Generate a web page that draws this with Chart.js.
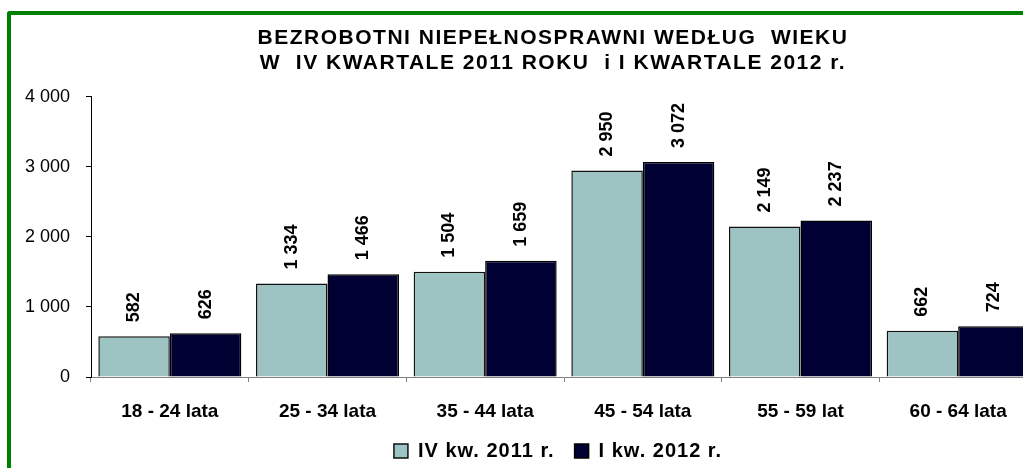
<!DOCTYPE html>
<html lang="pl">
<head>
<meta charset="utf-8">
<script src="https://cdn.jsdelivr.net/npm/chart.js@4/dist/chart.umd.min.js"></script>
<style>
  html, body { margin: 0; padding: 0; background: #fff; overflow: hidden; width: 1023px; height: 468px; }
  #wrap { position: relative; width: 1023px; height: 468px; overflow: hidden; }
  #chart { position: absolute; left: 0; top: 0; }
  #frame {
    position: absolute; left: 7px; top: 11px; width: 1100px; height: 500px;
    border-left: 4px solid #008000; border-top: 4px solid #008000;
    border-top-left-radius: 3px; pointer-events: none;
  }
</style>
</head>
<body>
<div id="wrap">
  <canvas id="chart" width="1106" height="468"></canvas>
  <div id="frame"></div>
</div>
<script>
// ── Data ──
const categories = ['18 - 24 lata', '25 - 34 lata', '35 - 44 lata', '45 - 54 lata', '55 - 59 lat', '60 - 64 lata'];
const q4_2011 = [582, 1334, 1504, 2950, 2149, 662];
const q1_2012 = [626, 1466, 1659, 3072, 2237, 724];
const seriesNames = ['IV kw. 2011 r.', 'I kw. 2012 r.'];
const titleLines = ['BEZROBOTNI NIEPEŁNOSPRAWNI WEDŁUG  WIEKU', 'W  IV KWARTALE 2011 ROKU  i I KWARTALE 2012 r.'];
const yTicks = [0, 1000, 2000, 3000, 4000];

const FONT = '"Liberation Sans", Arial, sans-serif';

// "2950" -> "2 950"
function fmt(v) {
  return String(v).replace(/\B(?=(\d{3})+(?!\d))/g, ' ');
}

// ── Wider letter spacing for title / legend (the original is stretched) ──
function spaced(box, methods, spacing, dx = 0, dy = 0) {
  if (!box || box._spaced) return;
  box._spaced = true;
  methods.forEach(m => {
    const orig = box[m].bind(box);
    box[m] = (...args) => {
      const ctx = box.ctx;
      ctx.save();
      ctx.letterSpacing = spacing;
      if (m === 'draw') ctx.translate(dx, dy);
      const r = orig(...args);
      ctx.restore();
      return r;
    };
  });
}

const textSpacing = {
  id: 'textSpacing',
  beforeLayout(chart) {
    spaced(chart.titleBlock, ['draw'], '1.5px');
    spaced(chart.legend, ['fit', 'draw'], '1px', 5, 3);
  }
};

// ── Rotated value labels above bars ──
const valueLabels = {
  id: 'valueLabels',
  afterDatasetsDraw(chart) {
    const { ctx } = chart;
    ctx.save();
    ctx.font = 'bold 18px ' + FONT;
    ctx.fillStyle = '#000';
    ctx.textAlign = 'left';
    ctx.textBaseline = 'middle';
    chart.data.datasets.forEach((ds, i) => {
      chart.getDatasetMeta(i).data.forEach((bar, j) => {
        ctx.save();
        ctx.translate(bar.x, bar.y - 14);
        ctx.rotate(-Math.PI / 2);
        ctx.fillText(fmt(ds.data[j]), 0, 0);
        ctx.restore();
      });
    });
    ctx.restore();
  }
};

new Chart(document.getElementById('chart'), {
  type: 'bar',
  data: {
    labels: categories,
    datasets: [
      {
        label: seriesNames[0],
        data: q4_2011,
        backgroundColor: '#9DC3C2',
        borderColor: '#111',
        borderWidth: 1.5,
        categoryPercentage: 0.907,
        barPercentage: 1.0,
      },
      {
        label: seriesNames[1],
        data: q1_2012,
        backgroundColor: '#000033',
        borderColor: '#000',
        borderWidth: 1.5,
        categoryPercentage: 0.907,
        barPercentage: 1.0,
      },
    ],
  },
  options: {
    responsive: false,
    animation: false,
    layout: { padding: 0 },
    plugins: {
      title: {
        display: true,
        text: titleLines,
        color: '#000',
        font: { family: FONT, size: 21, weight: 'bold', lineHeight: 1.19 },
        padding: { top: 25.5, bottom: 21.5 },
      },
      legend: {
        position: 'bottom',
        labels: {
          color: '#000',
          boxWidth: 14,
          boxHeight: 14,
          padding: 20,
          font: { family: FONT, size: 20, weight: 'bold' },
        },
      },
      tooltip: { enabled: false },
    },
    scales: {
      x: {
        afterFit: s => { s.height = 41; },
        border: { color: '#808080', width: 1 },
        grid: { drawOnChartArea: false, tickLength: 5, color: '#808080', offset: true },
        ticks: { color: '#000', padding: 18, font: { family: FONT, size: 19, weight: 'bold' } },
      },
      y: {
        min: 0,
        max: 4000,
        afterFit: s => { s.width = 91; },
        afterBuildTicks: s => { s.ticks = yTicks.map(v => ({ value: v })); },
        border: { color: '#000', width: 1 },
        grid: { drawOnChartArea: false, tickLength: 5, color: '#000' },
        ticks: { color: '#000', padding: 16, font: { family: FONT, size: 18 }, callback: v => fmt(v) },
      },
      // empty spacer on the right: the plot runs past the visible window
      spacer: {
        type: 'linear',
        position: 'right',
        min: 0,
        max: 1,
        afterFit: s => { s.width = 69; },
        border: { display: false },
        grid: { display: false },
        ticks: { display: false },
      },
    },
  },
  plugins: [textSpacing, valueLabels],
});
</script>
</body>
</html>
